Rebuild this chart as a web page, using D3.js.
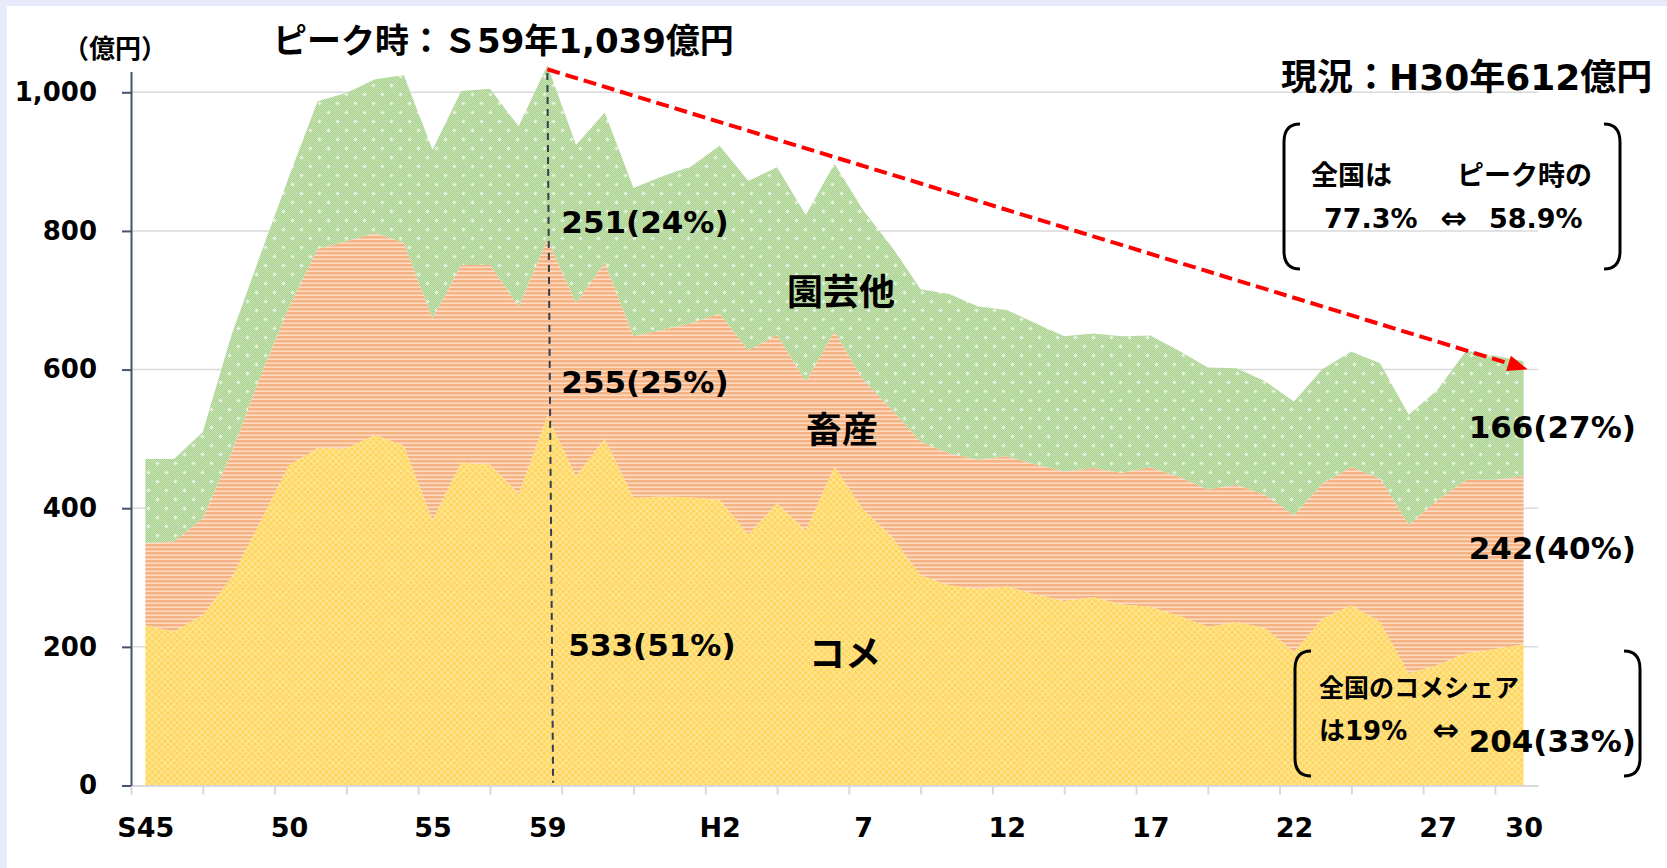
<!DOCTYPE html>
<html>
<head>
<meta charset="utf-8">
<script src="https://cdn.jsdelivr.net/npm/d3@7"></script>
<style>
html, body { margin: 0; padding: 0; background: #e6eafa; }
svg { display: block; }
text { font-family: "DejaVu Sans", "Noto Sans CJK JP", sans-serif; font-weight: bold; fill: #000; }
.jp { font-family: "Noto Sans CJK JP", sans-serif; }
</style>
</head>
<body>
<svg id="chart" width="1667" height="868"></svg>
<script>
// 年次 (S45〜H30)
var years = ["S45","S46","S47","S48","S49","S50","S51","S52","S53","S54",
             "S55","S56","S57","S58","S59","S60","S61","S62","S63","H1",
             "H2","H3","H4","H5","H6","H7","H8","H9","H10","H11",
             "H12","H13","H14","H15","H16","H17","H18","H19","H20","H21",
             "H22","H23","H24","H25","H26","H27","H28","H29","H30"];

// 億円
var rice = [231,222,246,300,380,462,487,486,506,490,
            383,466,463,421,533,446,500,415,417,416,
            412,362,407,368,460,398,359,303,289,284,
            287,276,266,272,261,258,245,229,236,227,
            193,241,260,236,162,174,191,197,204];
var livestock = [119,130,140,180,210,228,287,299,291,293,
                 291,285,288,270,255,250,254,233,240,251,
                 269,266,243,215,195,187,183,193,190,186,
                 188,187,187,186,190,201,200,198,198,192,
                 197,195,199,207,214,238,250,244,242];
var garden = [121,119,124,170,175,188,213,214,222,242,
              243,251,254,260,251,228,217,214,222,226,
              242,244,242,240,242,245,235,220,230,221,
              211,204,195,194,197,190,182,176,168,164,
              164,165,167,166,159,159,186,179,166];

var tickYears = ["S45","S50","S55","S59","H2","H7","H12","H17","H22","H27","H30"];
var tickText  = ["S45","50","55","59","H2","7","12","17","22","27","30"];
var yTicks = [0, 200, 400, 600, 800, 1000];

var svg = d3.select("#chart");
svg.append("rect").attr("x", 7).attr("y", 6).attr("width", 1660).attr("height", 862).attr("fill", "#fff");

var x = d3.scaleLinear().domain([-0.5, years.length - 0.5]).range([131, 1538]);
var y = d3.scaleLinear().domain([0, 1030]).range([785.5, 71.5]);

// patterns
var defs = svg.append("defs");

var pr = defs.append("pattern").attr("id", "pRice").attr("patternUnits", "userSpaceOnUse")
  .attr("width", 4.4).attr("height", 4.4).attr("patternTransform", "rotate(45)");
pr.append("rect").attr("width", 4.4).attr("height", 4.4).attr("fill", "#ffd760");
pr.append("rect").attr("width", 4.4).attr("height", 0.8).attr("fill", "#ffeaa6");
pr.append("rect").attr("width", 0.8).attr("height", 4.4).attr("fill", "#ffeaa6");

var po = defs.append("pattern").attr("id", "pLive").attr("patternUnits", "userSpaceOnUse")
  .attr("width", 8).attr("height", 4);
po.append("rect").attr("width", 8).attr("height", 4).attr("fill", "#fcdcc5");
po.append("rect").attr("width", 8).attr("height", 2.5).attr("fill", "#f5b283");

var pc = defs.append("pattern").attr("id", "pGc").attr("patternUnits", "userSpaceOnUse")
  .attr("width", 2).attr("height", 2);
pc.append("rect").attr("width", 2).attr("height", 2).attr("fill", "#a9d18e");
pc.append("rect").attr("width", 1).attr("height", 1).attr("fill", "#c8e3b6");
pc.append("rect").attr("x", 1).attr("y", 1).attr("width", 1).attr("height", 1).attr("fill", "#c8e3b6");

var pg = defs.append("pattern").attr("id", "pGarden").attr("patternUnits", "userSpaceOnUse")
  .attr("width", 18).attr("height", 18);
pg.append("rect").attr("width", 18).attr("height", 18).attr("fill", "url(#pGc)");
pg.append("path").attr("d", "M4.5,2.5V6.5M2.5,4.5H6.5M13.5,11.5V15.5M11.5,13.5H15.5")
  .attr("stroke", "#e6f2dd").attr("stroke-width", 1.3);

// gridlines
svg.append("g").selectAll("line")
  .data(yTicks.filter(function(d) { return d > 0; }))
  .enter().append("line")
  .attr("x1", x(-0.5)).attr("x2", x(years.length - 0.5))
  .attr("y1", function(d) { return y(d); }).attr("y2", function(d) { return y(d); })
  .attr("stroke", "#d9d9d9").attr("stroke-width", 1.5);

// stacked areas
var table = years.map(function(yr, i) {
  return { i: i, rice: rice[i], livestock: livestock[i], garden: garden[i] };
});
var keys = ["rice", "livestock", "garden"];
var fills = { rice: "url(#pRice)", livestock: "url(#pLive)", garden: "url(#pGarden)" };
var series = d3.stack().keys(keys)(table);

var area = d3.area()
  .x(function(d) { return x(d.data.i); })
  .y0(function(d) { return y(d[0]); })
  .y1(function(d) { return y(d[1]); });

svg.append("g").selectAll("path")
  .data(series)
  .enter().append("path")
  .attr("d", area)
  .attr("fill", function(s) { return fills[s.key]; });

// x axis
var xTickPos = d3.range(-0.5, years.length - 0.5, 2.5);
var gx = svg.append("g").attr("transform", "translate(0," + y(0) + ")")
  .call(d3.axisBottom(x).tickValues(xTickPos).tickSize(9).tickSizeOuter(0).tickFormat(""));
gx.selectAll("path, line").attr("stroke", "#d9d9d9").attr("stroke-width", 2);

var gxl = svg.append("g").attr("transform", "translate(0," + y(0) + ")")
  .call(d3.axisBottom(x)
    .tickValues(tickYears.map(function(t) { return years.indexOf(t); }))
    .tickSize(0).tickPadding(32)
    .tickFormat(function(d) { return tickText[tickYears.indexOf(years[d])]; }));
gxl.select(".domain").remove();
gxl.selectAll("text").attr("font-size", 27).attr("font-family", null).attr("fill", "#000");

// y axis
var gy = svg.append("g").attr("transform", "translate(" + x(-0.5) + ",0)")
  .call(d3.axisLeft(y).tickValues(yTicks).tickSize(9).tickSizeOuter(0).tickPadding(25)
    .tickFormat(d3.format(",")));
gy.selectAll("path, line").attr("stroke", "#44546a").attr("stroke-width", 2);
gy.selectAll("text").attr("font-size", 26).attr("font-family", null).attr("fill", "#000");

svg.append("text").attr("class", "jp").attr("x", 115).attr("y", 46)
  .attr("text-anchor", "middle").attr("dominant-baseline", "central")
  .attr("font-size", 26).text("（億円）");

// peak / current
var total = table.map(function(d) { return d.rice + d.livestock + d.garden; });
var peak = d3.maxIndex(total);
var last = years.length - 1;
var fmt = d3.format(",");
function pct(v, t) { return v + "(" + Math.round(v / t * 100) + "%)"; }

svg.append("line")
  .attr("x1", x(peak)).attr("y1", y(1028))
  .attr("x2", x(peak + 0.2)).attr("y2", y(4))
  .attr("stroke", "#333f50").attr("stroke-width", 2).attr("stroke-dasharray", "7,5");

var ax1 = x(peak), ay1 = y(total[peak]) + 4;
var ax2 = x(last) + 4, ay2 = y(total[last]) + 8;
var ang = Math.atan2(ay2 - ay1, ax2 - ax1);
var hl = 20;
svg.append("line")
  .attr("x1", ax1).attr("y1", ay1)
  .attr("x2", ax2 - hl * Math.cos(ang) * 0.8).attr("y2", ay2 - hl * Math.sin(ang) * 0.8)
  .attr("stroke", "#ff0000").attr("stroke-width", 4).attr("stroke-dasharray", "13,6");
svg.append("path")
  .attr("d", "M0,0L" + (-hl) + "," + (-8) + "L" + (-hl) + ",8Z")
  .attr("fill", "#ff0000")
  .attr("transform", "translate(" + ax2 + "," + ay2 + ") rotate(" + (ang * 180 / Math.PI) + ")");

svg.append("text").attr("x", 273).attr("y", 41).attr("dominant-baseline", "central")
  .attr("font-size", 34)
  .text("ピーク時：Ｓ" + years[peak].slice(1) + "年" + fmt(total[peak]) + "億円");
svg.append("text").attr("x", 1281).attr("y", 77).attr("dominant-baseline", "central")
  .attr("font-size", 36)
  .text("現況：" + years[last] + "年" + fmt(total[last]) + "億円");

// value labels
function label(tx, ty, str, size, anchor) {
  return svg.append("text").attr("x", tx).attr("y", ty)
    .attr("dominant-baseline", "central")
    .attr("text-anchor", anchor || "start")
    .attr("font-size", size || 31).text(str);
}
label(x(peak) + 14, 222, pct(garden[peak], total[peak]));
label(x(peak) + 14, 382, pct(livestock[peak], total[peak]));
label(x(peak) + 21, 645, pct(rice[peak], total[peak]));
label(x(last) - 55, 427, pct(garden[last], total[last]));
label(x(last) - 55, 548, pct(livestock[last], total[last]));
label(x(last) - 55, 741, pct(rice[last], total[last]));

label(841, 289, "園芸他", 36, "middle").attr("class", "jp");
label(842, 427, "畜産", 36, "middle").attr("class", "jp");
label(845, 651, "コメ", 36, "middle").attr("class", "jp");

// brackets
function bracket(bx, top, bot, dir) {
  var c = 16 * dir;
  svg.append("path")
    .attr("d", "M" + (bx + c) + "," + top + "Q" + bx + "," + top + " " + bx + "," + (top + 18) +
               "L" + bx + "," + (bot - 18) + "Q" + bx + "," + bot + " " + (bx + c) + "," + bot)
    .attr("fill", "none").attr("stroke", "#000").attr("stroke-width", 3);
}
bracket(1284, 124, 269, 1);
bracket(1620, 124, 269, -1);
bracket(1295, 651, 776, 1);
bracket(1640, 651, 776, -1);

label(1311, 175, "全国は", 27);
label(1592, 175, "ピーク時の", 27, "end");
label(1324, 218, "77.3%", 27);
label(1454, 218, "⇔", 32, "middle");
label(1489, 218, "58.9%", 27);

label(1319, 688, "全国のコメシェア", 25);
label(1319, 731, "は19%", 26);
label(1446, 730, "⇔", 32, "middle");
</script>
</body>
</html>
